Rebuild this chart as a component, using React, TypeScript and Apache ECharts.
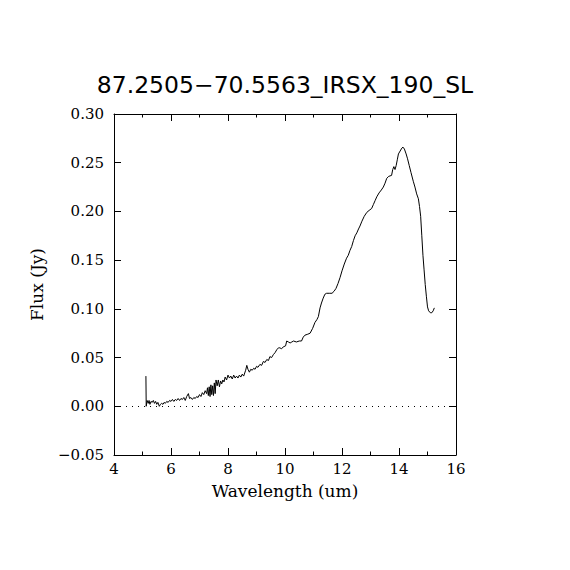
import React, { useEffect, useRef } from "react";
import * as echarts from "echarts";

const titleText = "87.2505\u221270.5563_IRSX_190_SL";
const xName = "Wavelength (um)";
const yName = "Flux (Jy)";

const wavelength = [
  5.12, 5.13, 5.16, 5.2, 5.23, 5.26, 5.3, 5.34, 5.38, 5.42, 5.46, 5.5, 5.54, 5.59, 5.63, 5.67, 5.72, 5.76, 5.8, 5.85,
  5.9, 5.95, 6.0, 6.05, 6.1, 6.15, 6.2, 6.25, 6.3, 6.35, 6.4, 6.45, 6.5, 6.55, 6.61, 6.65, 6.7, 6.75, 6.8, 6.85,
  6.9, 6.95, 7.0, 7.05, 7.1, 7.15, 7.2, 7.25, 7.28, 7.31, 7.34, 7.37, 7.4, 7.43, 7.46, 7.49, 7.52, 7.55, 7.58, 7.62,
  7.66, 7.7, 7.74, 7.78, 7.82, 7.86, 7.9, 7.95, 8.0, 8.05, 8.1, 8.15, 8.2, 8.25, 8.3, 8.35, 8.4, 8.45, 8.5, 8.55,
  8.62, 8.66, 8.7, 8.75, 8.8, 8.85, 8.9, 8.95, 9.0, 9.05, 9.12, 9.18, 9.24, 9.3, 9.36, 9.42, 9.47, 9.53, 9.59, 9.65,
  9.71, 9.77, 9.82, 9.88, 9.94, 10.02, 10.06, 10.12, 10.18, 10.24, 10.3, 10.4, 10.5, 10.58, 10.64, 10.7, 10.8, 10.88, 10.97, 11.05,
  11.12, 11.17, 11.23, 11.28, 11.34, 11.4, 11.46, 11.55, 11.65, 11.72, 11.79, 11.86, 11.93, 12.0, 12.08, 12.16, 12.22, 12.28, 12.34, 12.4,
  12.46, 12.52, 12.58, 12.63, 12.7, 12.78, 12.87, 12.95, 13.04, 13.1, 13.16, 13.22, 13.3, 13.38, 13.45, 13.51, 13.57, 13.64, 13.74, 13.78,
  13.82, 13.86, 13.9, 13.94, 13.98, 14.04, 14.1, 14.14, 14.19, 14.25, 14.3, 14.36, 14.42, 14.5, 14.56, 14.62, 14.68, 14.72, 14.76, 14.8,
  14.84, 14.88, 14.92, 14.96, 15.0, 15.04, 15.1, 15.15, 15.2, 15.24,
];

const flux = [
  0.031, 0.0, 0.006, 0.003, 0.006, 0.002, 0.005, 0.004, 0.006, 0.003, 0.005, 0.002, 0.004, 0.0, 0.002, 0.003, 0.002, 0.004, 0.003, 0.005,
  0.004, 0.006, 0.005, 0.007, 0.005, 0.007, 0.006, 0.008, 0.006, 0.008, 0.007, 0.009, 0.006, 0.01, 0.013, 0.008, 0.009, 0.007, 0.009, 0.008,
  0.01, 0.009, 0.012, 0.01, 0.014, 0.012, 0.016, 0.013, 0.019, 0.011, 0.02, 0.01, 0.022, 0.012, 0.021, 0.011, 0.024, 0.013, 0.027, 0.021,
  0.027, 0.02, 0.026, 0.023, 0.027, 0.025, 0.03, 0.027, 0.032, 0.029, 0.031, 0.028, 0.032, 0.029, 0.031, 0.029, 0.032, 0.03, 0.033, 0.031,
  0.037, 0.042, 0.038, 0.035, 0.038, 0.037, 0.039, 0.038, 0.041, 0.04, 0.043, 0.042, 0.046, 0.045, 0.048, 0.047, 0.051, 0.05, 0.053, 0.055,
  0.058, 0.06, 0.06, 0.059, 0.061, 0.062, 0.067, 0.066, 0.065, 0.066, 0.067, 0.066, 0.067, 0.067, 0.071, 0.073, 0.074, 0.075, 0.08, 0.086,
  0.089, 0.092, 0.101, 0.106, 0.111, 0.115, 0.116, 0.116, 0.116, 0.118, 0.121, 0.126, 0.132, 0.139, 0.146, 0.152, 0.155, 0.16, 0.164, 0.17,
  0.175, 0.178, 0.182, 0.185, 0.19, 0.195, 0.199, 0.201, 0.203, 0.207, 0.211, 0.215, 0.219, 0.222, 0.225, 0.229, 0.234, 0.236, 0.237, 0.243,
  0.246, 0.243, 0.247, 0.253, 0.259, 0.262, 0.265, 0.266, 0.264, 0.259, 0.254, 0.247, 0.24, 0.231, 0.225, 0.218, 0.213, 0.205, 0.195, 0.175,
  0.155, 0.14, 0.125, 0.113, 0.102, 0.098, 0.096, 0.096, 0.098, 0.101,
];

const xTicks = [4, 6, 8, 10, 12, 14, 16];
const yTicks = [-0.05, 0.0, 0.05, 0.1, 0.15, 0.2, 0.25, 0.3];

export default function App() {
  const ref = useRef<HTMLDivElement>(null);
  useEffect(() => {
    document.body.style.margin = "0";
    const chart = echarts.init(ref.current!, null, { renderer: "svg" });
    const labelFont = { fontFamily: "DejaVu Serif", fontSize: 15, color: "#000" };
    const axisCommon = {
      axisLine: { show: true, onZero: false, lineStyle: { color: "#000", width: 1 } },
      splitLine: { show: false },
    };
    chart.setOption({
      animation: false,
      backgroundColor: "#fff",
      title: {
        text: titleText,
        left: "center",
        top: 68,
        textStyle: { fontFamily: "DejaVu Sans", fontSize: 23.5, fontWeight: "normal", color: "#000" },
      },
      grid: { left: 114, right: 114, top: 114, bottom: 115, containLabel: false },
      xAxis: [
        {
          type: "value",
          min: xTicks[0],
          max: xTicks[xTicks.length - 1],
          interval: 2,
          position: "bottom",
          name: xName,
          nameLocation: "middle",
          nameGap: 27,
          nameTextStyle: { fontFamily: "DejaVu Serif", fontSize: 17, color: "#000" },
          axisTick: { show: true, inside: true, length: 7, lineStyle: { color: "#000" } },
          minorTick: { show: true, splitNumber: 2, length: 3.5, lineStyle: { color: "#000" } },
          axisLabel: { ...labelFont, margin: 6 },
          ...axisCommon,
        },
        {
          type: "value",
          min: xTicks[0],
          max: xTicks[xTicks.length - 1],
          interval: 2,
          position: "top",
          axisTick: { show: true, inside: true, length: 7, lineStyle: { color: "#000" } },
          minorTick: { show: true, splitNumber: 2, length: 3.5, lineStyle: { color: "#000" } },
          axisLabel: { show: false },
          ...axisCommon,
        },
      ],
      yAxis: [
        {
          type: "value",
          min: yTicks[0],
          max: yTicks[yTicks.length - 1],
          interval: 0.05,
          position: "left",
          name: yName,
          nameLocation: "middle",
          nameGap: 69,
          nameTextStyle: { fontFamily: "DejaVu Serif", fontSize: 17, color: "#000" },
          axisTick: { show: true, inside: true, length: 7, lineStyle: { color: "#000" } },
          axisLabel: {
            ...labelFont,
            margin: 10,
            formatter: (v: number) => (v < 0 ? "\u2212" + Math.abs(v).toFixed(2) : v.toFixed(2)),
          },
          ...axisCommon,
        },
        {
          type: "value",
          min: yTicks[0],
          max: yTicks[yTicks.length - 1],
          interval: 0.05,
          position: "right",
          axisTick: { show: true, inside: true, length: 7, lineStyle: { color: "#000" } },
          axisLabel: { show: false },
          ...axisCommon,
        },
      ],
      series: [
        {
          type: "line",
          data: wavelength.map((w, i) => [w, flux[i]]),
          showSymbol: false,
          symbol: "none",
          lineStyle: { color: "#000", width: 1 },
          xAxisIndex: 0,
          yAxisIndex: 0,
          markLine: {
            silent: true,
            symbol: "none",
            label: { show: false },
            lineStyle: { color: "#000", width: 1, type: [1, 5] },
            data: [{ yAxis: 0 }],
          },
        },
      ],
    });
    return () => chart.dispose();
  }, []);
  return <div ref={ref} style={{ width: 570, height: 570 }} />;
}
